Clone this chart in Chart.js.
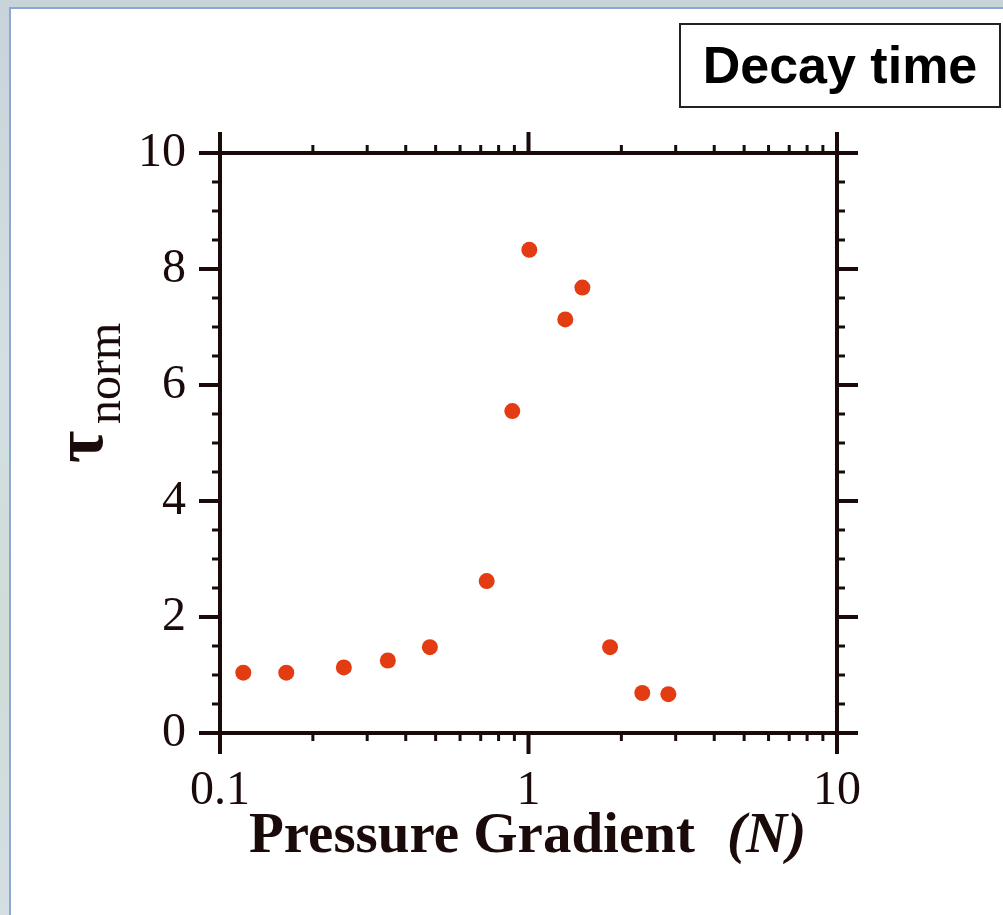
<!DOCTYPE html>
<html>
<head>
<meta charset="utf-8">
<script src="https://cdn.jsdelivr.net/npm/chart.js@4"></script>
<style>
  html, body { margin: 0; padding: 0; }
  body {
    width: 1003px; height: 915px; overflow: hidden; position: relative;
    background: linear-gradient(180deg, #c9d3da 0%, #d3dfe2 40%, #cfdcd8 70%, #d4dee3 100%);
  }
  #panel {
    position: absolute; left: 9px; top: 7px; right: -4px; bottom: -4px;
    background: #fff; border: 2px solid #8ca8d2;
  }
  #wrap { position: absolute; left: 0; top: 0; width: 1003px; height: 915px; }
  #badge {
    position: absolute; left: 679px; top: 23px; width: 318px; height: 81px;
    border: 2px solid #222; background: #fff;
    font: bold 52px "Liberation Sans", Arial, sans-serif; color: #000;
    text-align: center; line-height: 81px;
  }
</style>
</head>
<body>
<div id="panel"></div>
<div id="wrap"><canvas id="chart"></canvas></div>
<div id="badge">Decay time</div>
<script>
// pressure gradient N (log axis) and normalised decay time
const pressureGradient = [0.119, 0.164, 0.252, 0.350, 0.479, 0.732, 0.886, 1.006, 1.316, 1.495, 1.838, 2.338, 2.84];
const tauNorm = [1.04, 1.04, 1.13, 1.25, 1.48, 2.62, 5.55, 8.33, 7.13, 7.68, 1.48, 0.69, 0.67];

const xTickValues = [0.1, 1, 10];
const yTickValues = [0, 2, 4, 6, 8, 10];

const ink = '#1a0a0a';
const serif = '"Liberation Serif", "Times New Roman", serif';

// frame, ticks and axis titles drawn in the old plotting-package style
const framePlugin = {
    id: 'frame',
    afterDraw(chart) {
        const { ctx, chartArea: a, scales } = chart;
        const xs = scales.x, ys = scales.y;
        ctx.save();
        ctx.strokeStyle = ink;
        ctx.lineCap = 'butt';

        // box
        ctx.lineWidth = 4;
        ctx.strokeRect(a.left, a.top, a.right - a.left, a.bottom - a.top);

        const tick = (x1, y1, x2, y2, w) => {
            ctx.lineWidth = w;
            ctx.beginPath(); ctx.moveTo(x1, y1); ctx.lineTo(x2, y2); ctx.stroke();
        };
        const major = 21, minor = 8;

        // x ticks (outside, top and bottom)
        const xMinor = [];
        [0.1, 1].forEach(d => { for (let k = 2; k <= 9; k++) xMinor.push(k * d); });
        xMinor.forEach(v => {
            const px = xs.getPixelForValue(v);
            tick(px, a.bottom, px, a.bottom + minor, 3);
            tick(px, a.top, px, a.top - minor, 3);
        });
        xTickValues.forEach(v => {
            const px = xs.getPixelForValue(v);
            tick(px, a.bottom - 2, px, a.bottom + major, 4);
            tick(px, a.top + 2, px, a.top - major, 4);
        });

        // y ticks (outside, left and right)
        for (let v = 0.5; v < 10; v += 0.5) {
            if (v % 2 === 0) continue;
            const py = ys.getPixelForValue(v);
            tick(a.left, py, a.left - minor, py, 3);
            tick(a.right, py, a.right + minor, py, 3);
        }
        yTickValues.forEach(v => {
            const py = ys.getPixelForValue(v);
            tick(a.left + 2, py, a.left - major, py, 4);
            tick(a.right - 2, py, a.right + major, py, 4);
        });

        // x title
        ctx.fillStyle = ink;
        ctx.textBaseline = 'alphabetic';
        ctx.textAlign = 'left';
        ctx.font = 'bold 57px ' + serif;
        ctx.fillText('Pressure Gradient', 249, 852);
        ctx.font = 'italic bold 57px ' + serif;
        ctx.fillText('(N)', 727, 852);

        // y title: tau with subscript, rotated
        ctx.rotate(-Math.PI / 2);
        ctx.font = 'bold 70px ' + serif;
        ctx.fillText('τ', -463, 102);
        ctx.font = '48px ' + serif;
        ctx.fillText('norm', -424, 120);
        ctx.restore();
    }
};

new Chart(document.getElementById('chart'), {
    type: 'scatter',
    data: {
        datasets: [{
            data: pressureGradient.map((x, i) => ({ x: x, y: tauNorm[i] })),
            backgroundColor: '#e33b12',
            borderWidth: 0,
            pointRadius: 8,
            pointHoverRadius: 8
        }]
    },
    options: {
        responsive: true,
        maintainAspectRatio: false,
        animation: false,
        layout: { padding: { top: 153, right: 166, left: 0, bottom: 0 } },
        plugins: { legend: { display: false }, tooltip: { enabled: false } },
        scales: {
            x: {
                type: 'logarithmic',
                min: 0.1,
                max: 10,
                afterFit: s => { s.height = 182; },
                afterBuildTicks: s => { s.ticks = xTickValues.map(v => ({ value: v })); },
                grid: { display: false, drawTicks: false },
                border: { display: false },
                ticks: {
                    autoSkip: false,
                    maxRotation: 0,
                    padding: 30,
                    color: ink,
                    font: { family: serif, size: 48 },
                    callback: v => String(v)
                }
            },
            y: {
                min: 0,
                max: 10,
                afterFit: s => { s.width = 220; },
                afterBuildTicks: s => { s.ticks = yTickValues.map(v => ({ value: v })); },
                grid: { display: false, drawTicks: false },
                border: { display: false },
                ticks: {
                    padding: 34,
                    color: ink,
                    font: { family: serif, size: 48 },
                    callback: v => String(v)
                }
            }
        }
    },
    plugins: [framePlugin]
});
</script>
</body>
</html>
